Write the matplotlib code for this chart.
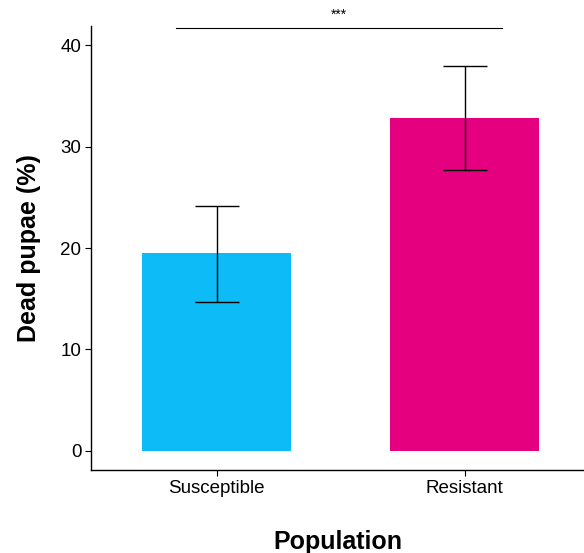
import matplotlib
matplotlib.use("Agg")
import matplotlib.pyplot as plt

plt.rcParams['font.family'] = ['Liberation Sans', 'DejaVu Sans']

populations = ["Susceptible", "Resistant"]
dead_pct = [19.5, 32.8]
err_low = [14.7, 27.7]
err_high = [24.1, 38.0]
bar_colors = ["#0DBBF6", "#E4007F"]
yticks = [0, 10, 20, 30, 40]
signif = "***"

fig = plt.figure(figsize=(5.84, 5.53), dpi=100)
ax = fig.add_axes([0.156, 0.150, 0.844, 0.803])

x = [1, 2]
ax.bar(x, dead_pct, width=0.6, color=bar_colors)
yerr = [[d - lo for d, lo in zip(dead_pct, err_low)],
        [hi - d for d, hi in zip(dead_pct, err_high)]]
ax.errorbar(x, dead_pct, yerr=yerr, fmt='none', ecolor='black',
            elinewidth=1, capsize=16, capthick=1)

# significance bar
ax.plot([0.837, 2.151], [41.7, 41.7], color='black', lw=0.8, clip_on=False)
ax.text(1.494, 42.3, signif, ha='center', va='bottom', fontsize=10)

ax.set_xlim(0.494, 2.48)
ax.set_ylim(-1.9, 41.9)
ax.set_xticks(x)
ax.set_xticklabels(populations)
ax.set_yticks(yticks)
ax.tick_params(labelsize=13.5, length=4, width=0.8, colors='black', pad=3)
for s in ['top', 'right']:
    ax.spines[s].set_visible(False)
for s in ['left', 'bottom']:
    ax.spines[s].set_linewidth(1.0)

ax.set_xlabel("Population", fontsize=18, fontweight='bold', labelpad=24)
ax.set_ylabel("Dead pupae (%)", fontsize=18, fontweight='bold', labelpad=14)

fig.savefig("out.png", dpi=100)
